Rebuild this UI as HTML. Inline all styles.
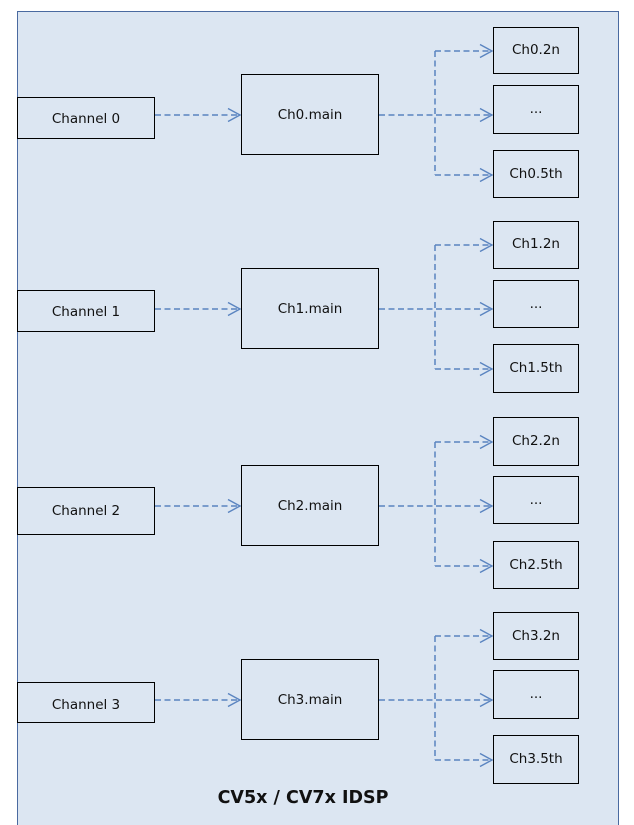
<!DOCTYPE html>
<html><head><meta charset="utf-8"><style>
html,body{margin:0;padding:0;background:#fff;}
svg{display:block;}
text{font-family:"DejaVu Sans","Liberation Sans",sans-serif;font-size:13.5px;fill:#111;}
</style></head><body>
<svg width="634" height="825" viewBox="0 0 634 825" xmlns="http://www.w3.org/2000/svg">
<defs>
<marker id="a" markerWidth="16" markerHeight="16" refX="13" refY="8" orient="auto" markerUnits="userSpaceOnUse">
<path d="M1,1.5 L13,8 L1,14.5" fill="none" stroke="#5a84c0" stroke-width="1.4"/>
</marker>
</defs>
<rect x="17.5" y="11.5" width="601" height="820" fill="#dce6f2" stroke="#4a6aa0" stroke-width="1"/>
<g fill="none" stroke="#5a84c0" stroke-width="1.5" stroke-dasharray="6,3.5">
<path d="M155 115 H240" marker-end="url(#a)"/>
<path d="M379 115 H492" marker-end="url(#a)"/>
<path d="M435 51 V175"/>
<path d="M435 51 H492" marker-end="url(#a)"/>
<path d="M435 175 H492" marker-end="url(#a)"/>

<path d="M155 309 H240" marker-end="url(#a)"/>
<path d="M379 309 H492" marker-end="url(#a)"/>
<path d="M435 245 V369"/>
<path d="M435 245 H492" marker-end="url(#a)"/>
<path d="M435 369 H492" marker-end="url(#a)"/>

<path d="M155 506 H240" marker-end="url(#a)"/>
<path d="M379 506 H492" marker-end="url(#a)"/>
<path d="M435 442 V566"/>
<path d="M435 442 H492" marker-end="url(#a)"/>
<path d="M435 566 H492" marker-end="url(#a)"/>

<path d="M155 700 H240" marker-end="url(#a)"/>
<path d="M379 700 H492" marker-end="url(#a)"/>
<path d="M435 636 V760"/>
<path d="M435 636 H492" marker-end="url(#a)"/>
<path d="M435 760 H492" marker-end="url(#a)"/>
</g>
<g fill="none" stroke="#000" stroke-width="1">
<rect x="17.5" y="97.5" width="137" height="41"/>
<rect x="241.5" y="74.5" width="137" height="80"/>
<rect x="493.5" y="27.5" width="85" height="46"/>
<rect x="493.5" y="85.5" width="85" height="48"/>
<rect x="493.5" y="150.5" width="85" height="47"/>

<rect x="17.5" y="290.5" width="137" height="41"/>
<rect x="241.5" y="268.5" width="137" height="80"/>
<rect x="493.5" y="221.5" width="85" height="47"/>
<rect x="493.5" y="280.5" width="85" height="47"/>
<rect x="493.5" y="344.5" width="85" height="48"/>

<rect x="17.5" y="487.5" width="137" height="47"/>
<rect x="241.5" y="465.5" width="137" height="80"/>
<rect x="493.5" y="417.5" width="85" height="48"/>
<rect x="493.5" y="476.5" width="85" height="47"/>
<rect x="493.5" y="541.5" width="85" height="47"/>

<rect x="17.5" y="682.5" width="137" height="40"/>
<rect x="241.5" y="659.5" width="137" height="80"/>
<rect x="493.5" y="612.5" width="85" height="47"/>
<rect x="493.5" y="670.5" width="85" height="48"/>
<rect x="493.5" y="735.5" width="85" height="48"/>
</g>
<g text-anchor="middle">
<text x="86" y="123">Channel 0</text>
<text x="310" y="119">Ch0.main</text>
<text x="536" y="54">Ch0.2n</text>
<text x="536" y="113">...</text>
<text x="536" y="178">Ch0.5th</text>

<text x="86" y="316">Channel 1</text>
<text x="310" y="313">Ch1.main</text>
<text x="536" y="248">Ch1.2n</text>
<text x="536" y="308">...</text>
<text x="536" y="372">Ch1.5th</text>

<text x="86" y="515">Channel 2</text>
<text x="310" y="510">Ch2.main</text>
<text x="536" y="445">Ch2.2n</text>
<text x="536" y="504">...</text>
<text x="536" y="569">Ch2.5th</text>

<text x="86" y="709">Channel 3</text>
<text x="310" y="704">Ch3.main</text>
<text x="536" y="640">Ch3.2n</text>
<text x="536" y="698">...</text>
<text x="536" y="763">Ch3.5th</text>

<text x="303" y="803" style="font-size:17.5px;font-weight:bold">CV5x / CV7x IDSP</text>
</g>
</svg>
</body></html>
